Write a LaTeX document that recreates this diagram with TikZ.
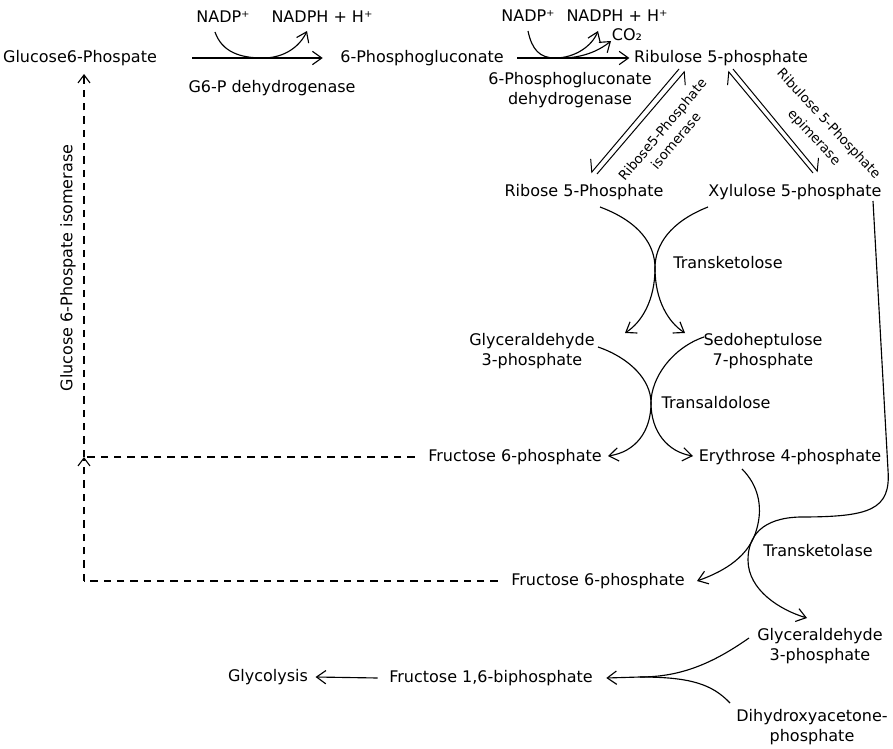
\documentclass[tikz,border=0pt]{standalone}
\usepackage{fontspec}
\setmainfont{DejaVu Sans}
\usetikzlibrary{arrows.meta,calc}
\begin{document}
\begin{tikzpicture}[x=0.75pt,y=-0.75pt,
  lbl/.style={font=\fontsize{12}{15}\selectfont, inner sep=1pt, align=center},
  sml/.style={font=\fontsize{10}{14}\selectfont, inner sep=1pt, align=center},
  ln/.style={line width=0.85pt},
  arr/.style={ln, -{Straight Barb[length=7pt,width=10pt]}},
  hl/.style={line width=0.75pt, -{Straight Barb[left,length=7pt,width=14pt]}},
  hr/.style={line width=0.75pt, -{Straight Barb[right,length=7pt,width=14pt]}},
  dsh/.style={line width=0.85pt, dash pattern=on 5.5pt off 4.5pt},
  dsharr/.style={dsh, -{Straight Barb[length=6pt,width=9pt]}}
]
\useasboundingbox (0,0) rectangle (893,749);
% nodes
\node[lbl] (g6p) at (80,58) {Glucose6-Phospate};
\node[lbl] (pg6) at (422,58) {6-Phosphogluconate};
\node[lbl] (ru5p) at (721,58) {Ribulose 5-phosphate};
\node[lbl] (nadp1) at (223,17) {NADP⁺};
\node[lbl] (nadph1) at (322,17) {NADPH + H⁺};
\node[lbl] (g6pdh) at (272,88) {G6-P dehydrogenase};
\node[lbl] (nadp2) at (528,16) {NADP⁺};
\node[lbl] (nadph2) at (617,16) {NADPH + H⁺};
\node[lbl] (co2) at (627,35) {CO₂};
\node[lbl] (pgdh) at (570,90) {6-Phosphogluconate\\dehydrogenase};
\node[lbl] (r5p) at (584,192) {Ribose 5-Phosphate};
\node[lbl] (x5p) at (795,192) {Xylulose 5-phosphate};
\node[lbl] (tk1) at (728,263) {Transketolose};
\node[lbl] (ga3p1) at (532,351) {Glyceraldehyde\\3-phosphate};
\node[lbl] (s7p) at (763,351) {Sedoheptulose\\7-phosphate};
\node[lbl] (ta) at (716,403) {Transaldolose};
\node[lbl] (f6p1) at (515,457) {Fructose 6-phosphate};
\node[lbl] (e4p) at (790,457) {Erythrose 4-phosphate};
\node[lbl] (tkase) at (818,551) {Transketolase};
\node[lbl] (f6p2) at (598,581) {Fructose 6-phosphate};
\node[lbl] (ga3p2) at (820,646) {Glyceraldehyde\\3-phosphate};
\node[lbl] (f16bp) at (491,678) {Fructose 1,6-biphosphate};
\node[lbl] (glyc) at (268,677) {Glycolysis};
\node[lbl] (dhap) at (812,727) {Dihydroxyacetone-\\phosphate};
\node[sml, rotate=50, font=\fontsize{10}{13}\selectfont] (iso) at (669,135) {Ribose5-Phosphate\\isomerase};
\node[sml, rotate=-47, font=\fontsize{10}{15}\selectfont] (epi) at (821,131) {Ribulose 5-Phosphate\\epimerase};
\node[lbl, rotate=90] (gpi) at (68,268) {Glucose 6-Phospate isomerase};
% main horizontal reactions
\draw[arr] ($(g6p.east)+(34,0)$) -- ($(pg6.west)+(-16,0)$);
\draw[arr] (215,32) .. controls (222,52) and (240,58) .. (263,58) .. controls (285,58) and (300,46) .. (307,31);
\draw[arr] ($(pg6.east)+(12,0)$) -- ($(ru5p.west)+(-3,0)$);
\draw[arr] (528,31) .. controls (532,50) and (540,58) .. (555,58) .. controls (575,58) and (592,46) .. (598,31);
\draw[arr] (565,58) .. controls (585,57) and (600,50) .. (611,41);
% isomerase / epimerase equilibria
\draw[hr] (679,69) -- (591,173);
\draw[hr] (597,174) -- (685,71);
\draw[hl] (813,173) -- (728,71);
\draw[hl] (733,69) -- (818,172);
% transketolose
\draw[arr] (600,207) .. controls (640,222) and (655,245) .. (655,268) .. controls (655,300) and (668,322) .. (685,333);
\draw[arr] (708,207) .. controls (670,222) and (655,245) .. (655,268) .. controls (655,300) and (642,322) .. (625,333);
% transaldolose
\draw[arr] (598,347) .. controls (630,358) and (651,380) .. (651,403) .. controls (651,432) and (668,452) .. (693,456);
\draw[arr] (704,337) .. controls (672,348) and (651,378) .. (651,403) .. controls (651,432) and (635,452) .. (608,456);
% transketolase
\draw[arr] (742,469) .. controls (758,485) and (763,506) .. (757,528) .. controls (750,556) and (725,571) .. (697,581);
\draw[arr] (873,201) -- (888,470) .. controls (891,510) and (870,517) .. (800,517) .. controls (762,518) and (748,536) .. (748,560) .. controls (748,590) and (780,610) .. (807,618);
% to fructose 1,6-biphosphate
\coordinate (merge) at (640,677);
\draw[ln] (749,638) .. controls (712,664) and (680,677) .. (merge);
\draw[ln] (730,703) .. controls (712,684) and (690,677) .. (merge);
\draw[arr] (merge) -- ($(f16bp.east)+(12,0)$);
\draw[arr] ($(f16bp.west)+(-10,0)$) -- ($(glyc.east)+(6,0)$);
% dashed isomerase return
\coordinate (j1) at (84,457);
\coordinate (j2) at (84,581);
\coordinate (top) at (84,74);
\draw[dsh] ($(f6p1.west)+(-12,0)$) -- (j1);
\draw[dsh] ($(f6p2.west)+(-12,0)$) -- (j2);
\draw[dsharr] (j2) -- (j1);
\draw[dsharr] (j1) -- (top);
\end{tikzpicture}
\end{document}
